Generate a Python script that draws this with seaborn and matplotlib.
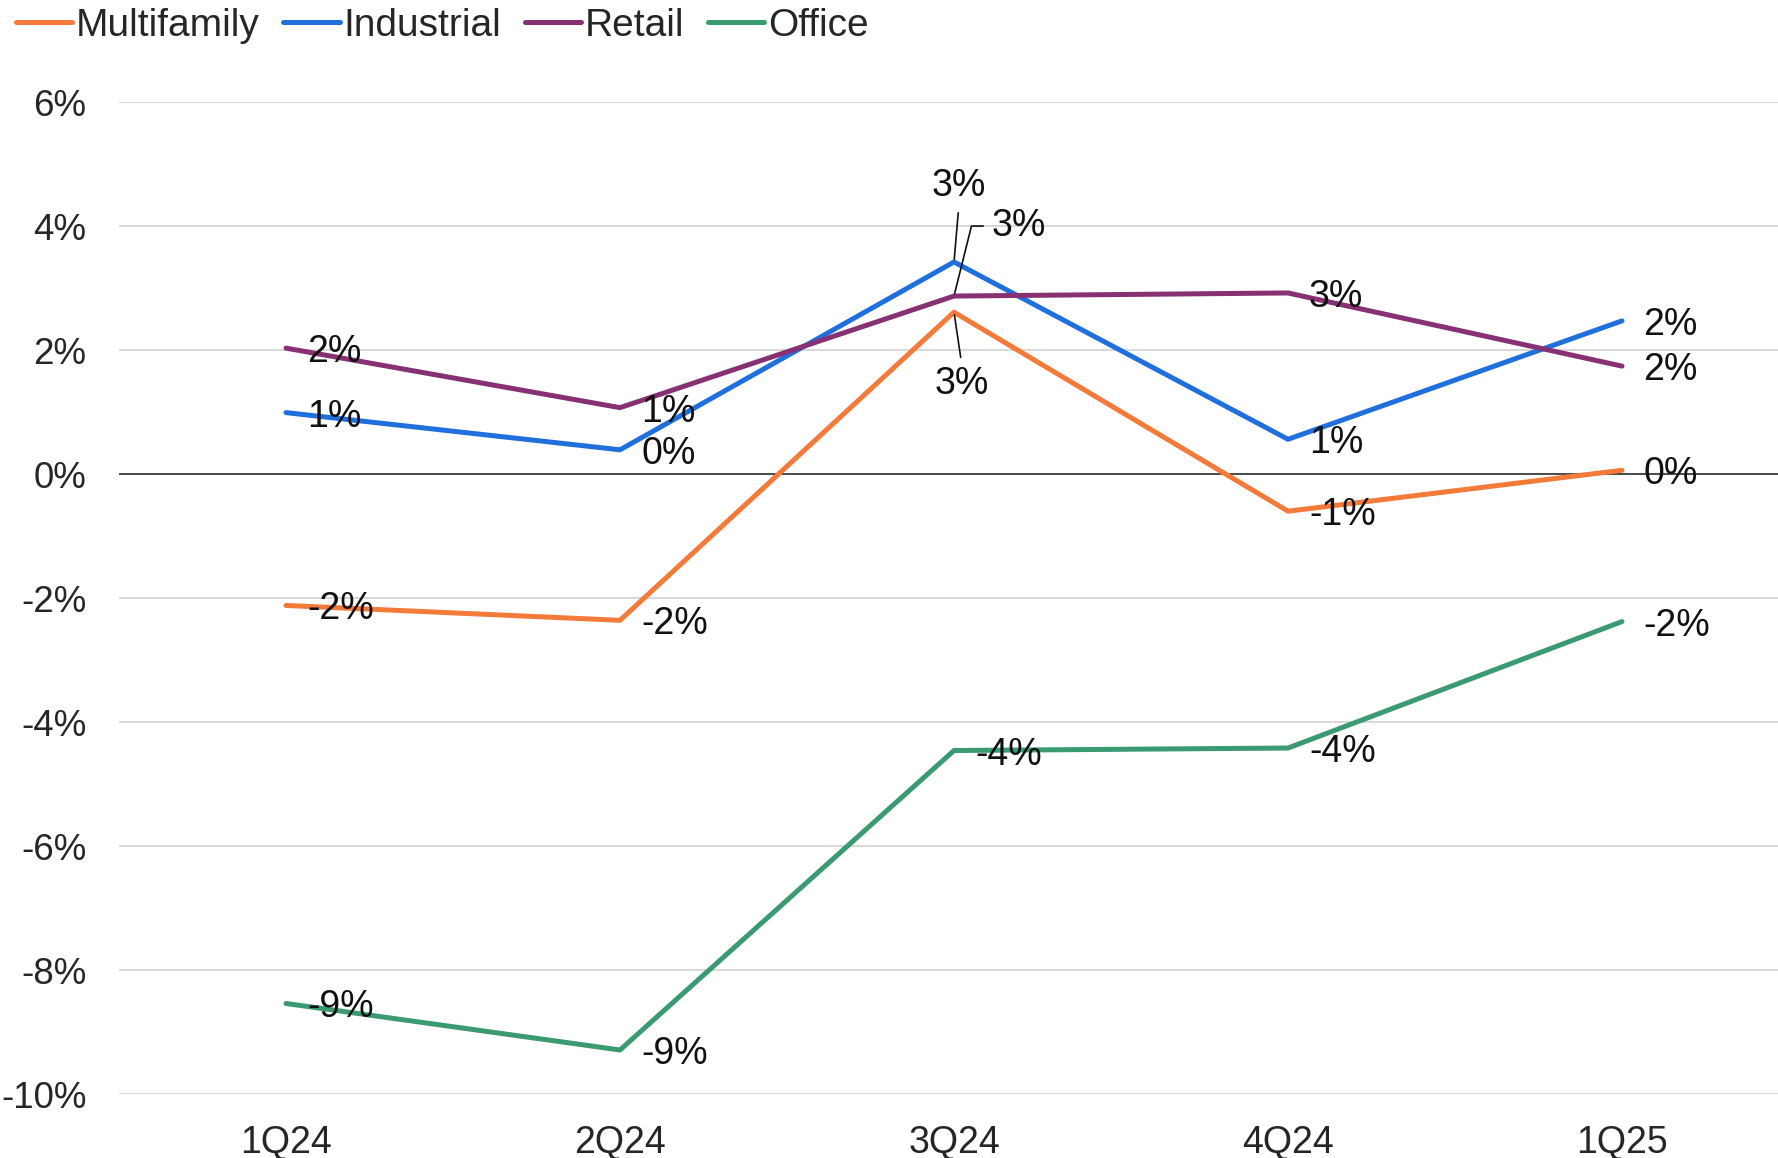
import matplotlib
matplotlib.use("Agg")
import matplotlib.pyplot as plt
from matplotlib.ticker import PercentFormatter
import seaborn as sns
import pandas as pd

# Quarterly change by property type, in percent
quarters = ["1Q24", "2Q24", "3Q24", "4Q24", "1Q25"]
multifamily = [-2.12, -2.36, 2.61, -0.60, 0.06]
industrial = [0.99, 0.39, 3.42, 0.56, 2.47]
retail = [2.03, 1.07, 2.87, 2.92, 1.74]
office = [-8.54, -9.29, -4.46, -4.42, -2.38]

series_names = ["Multifamily", "Industrial", "Retail", "Office"]
series_values = [multifamily, industrial, retail, office]
colors = ["#F47A3A", "#1F6FDD", "#873073", "#3A9A72"]

df = pd.DataFrame(
    [(name, q, v) for name, vals in zip(series_names, series_values)
     for q, v in zip(quarters, vals)],
    columns=["series", "quarter", "value"],
)

sns.set_theme(style="white")
plt.rcParams["font.family"] = ["Liberation Sans", "DejaVu Sans"]
plt.rcParams["axes.unicode_minus"] = False

fig = plt.figure(figsize=(17.78, 11.58), dpi=100)
ax = fig.add_axes([119 / 1778, 1 - 1094 / 1158, 1670 / 1778, (1094 - 102) / 1158])

ax.yaxis.grid(True, color="#D9D9D9", linewidth=1.5, zorder=0)
ax.set_axisbelow(True)
ax.axhline(0, color="#333333", linewidth=1.2, zorder=1)

palette = dict(zip(series_names, colors))
sns.lineplot(
    data=df, x="quarter", y="value", hue="series", hue_order=series_names,
    palette=palette, linewidth=3.6, sort=False, ax=ax, legend=False, zorder=3,
)

ax.set_xlim(-0.5, 4.5)
ax.set_ylim(-10, 6)
ax.set_yticks(range(-10, 7, 2))
ax.yaxis.set_major_formatter(PercentFormatter(decimals=0))
ax.set_xlabel("")
ax.set_ylabel("")
for s in ax.spines.values():
    s.set_visible(False)
ax.tick_params(axis="y", length=0, pad=23.5, labelsize=26.5, labelcolor="#262626")
ax.tick_params(axis="x", length=0, pad=22, labelsize=27, labelcolor="#262626")

# Value labels: right of each point, with leader lines where 3Q24 labels crowd
special = {
    ("Industrial", 2): dict(off=(5, 58), ha="center", va="bottom",
                            rel=(0.5, 0.0), conn="arc3"),
    ("Retail", 2): dict(off=(38, 70), ha="left", va="center",
                        rel=(0.0, 0.5), conn="angle,angleA=0,angleB=76,rad=0"),
    ("Multifamily", 2): dict(off=(8, -54), ha="center", va="top",
                             rel=(0.5, 1.0), conn="arc3"),
}
for name, vals in zip(series_names, series_values):
    for i, v in enumerate(vals):
        text = f"{round(v):d}%"
        key = (name, i)
        if key in special:
            sp = special[key]
            ax.annotate(
                text, xy=(i, v), xytext=sp["off"], textcoords="offset pixels",
                ha=sp["ha"], va=sp["va"], fontsize=27, color="#111111", zorder=5,
                arrowprops=dict(arrowstyle="-", color="#111111", lw=1.2,
                                shrinkA=4, shrinkB=2, relpos=sp["rel"],
                                connectionstyle=sp["conn"]),
            )
        else:
            ax.annotate(
                text, xy=(i, v), xytext=(21, -4), textcoords="offset pixels",
                ha="left", va="center", fontsize=27, color="#111111", zorder=5,
            )

handles = [plt.Line2D([], [], color=c, linewidth=3.6) for c in colors]
fig.legend(
    handles, series_names, loc="upper left", bbox_to_anchor=(14 / 1778, 1 - 6 / 1158),
    ncol=4, frameon=False, fontsize=28, handlelength=1.45, handletextpad=0.1,
    columnspacing=0.6, borderaxespad=0, borderpad=0.05, labelcolor="#262626",
)

fig.savefig("out.png", dpi=100)
